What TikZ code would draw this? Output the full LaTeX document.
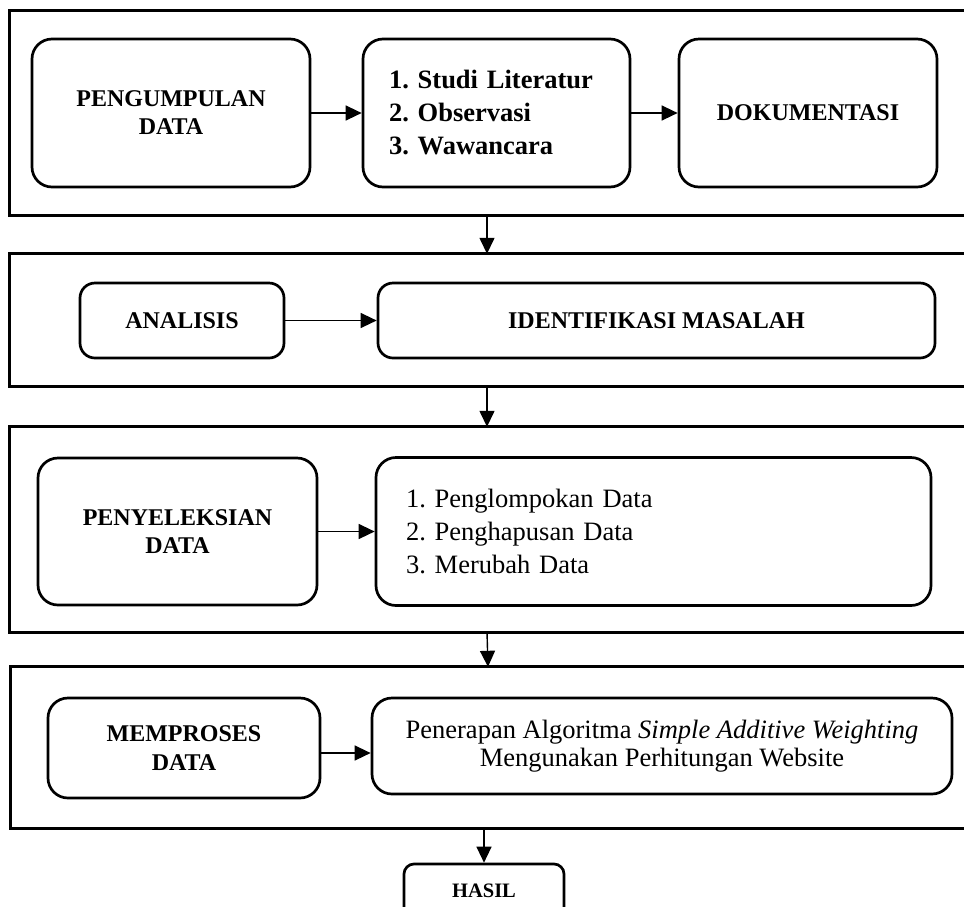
\documentclass[tikz,border=0pt]{standalone}
\usepackage{fontspec}
\setmainfont{Liberation Serif}
\usetikzlibrary{arrows.meta}
\frenchspacing
\begin{document}
\begin{tikzpicture}[x=1pt,y=-1pt,
  panel/.style={rectangle, draw=none, minimum width=954pt, inner sep=0pt},
  rbox/.style={rectangle, rounded corners=20pt, draw, line width=2.7pt, inner sep=0pt},
  capt/.style={font=\fontsize{24}{28}\selectfont\bfseries, align=center},
  listb/.style={font=\fontsize{26.5}{33}\selectfont\bfseries, align=left},
  listr/.style={font=\fontsize{26.5}{33}\selectfont, align=left},
  arr/.style={-{Triangle[length=16pt,width=15pt]}, line width=1.4pt},
  border/.style={line width=3.2pt}
]
\useasboundingbox[fill=white] (0,0) rectangle (964,906);

% panels
\node[panel, minimum height=204pt] (p1) at (487,113) {};
\node[panel, minimum height=132pt] (p2) at (487,320) {};
\node[panel, minimum height=205pt] (p3) at (487,529.5) {};
\node[panel, minimum height=161pt] (p4) at (488,747.5) {};
\foreach \p in {p1,p2,p3,p4}{
  \draw[border] (\p.north east) -- (\p.north west) -- (\p.south west) -- (\p.south east);
}

% panel 1
\node[rbox, capt, minimum width=278pt, minimum height=148pt] (a1) at (171,113) {PENGUMPULAN\\DATA};
\node[rbox, listb, minimum width=267pt, minimum height=148pt, text width=215pt, inner xsep=26pt] (a2) at (496.5,113)
  {1. Studi Literatur\\2. Observasi\\3. Wawancara};
\node[rbox, capt, minimum width=258pt, minimum height=148pt] (a3) at (808,113) {DOKUMENTASI};
\draw[arr] (a1) -- (a2);
\draw[arr] (a2) -- (a3);

% panel 2
\node[rbox, capt, rounded corners=15pt, minimum width=204pt, minimum height=75pt] (b1) at (182,320.5) {ANALISIS};
\node[rbox, capt, rounded corners=15pt, minimum width=557pt, minimum height=75pt] (b2) at (656.5,320.5) {IDENTIFIKASI MASALAH};
\draw[arr] (b1) -- (b2);

% panel 3
\node[rbox, capt, minimum width=279pt, minimum height=147pt] (c1) at (177.5,531.5) {PENYELEKSIAN\\DATA};
\node[rbox, listr, minimum width=555pt, minimum height=148pt, text width=495pt, inner xsep=30pt] (c2) at (653.5,531.5)
  {1. Penglompokan Data\\2. Penghapusan Data\\3. Merubah Data};
\draw[arr] (c1.east) -- (c1.east -| c2.west);

% panel 4
\node[rbox, capt, font=\fontsize{24}{29}\selectfont\bfseries, minimum width=272pt, minimum height=100pt] (d1) at (184,748) {MEMPROSES\\DATA};
\node[rbox, font=\fontsize{26.5}{27.5}\selectfont, align=center, minimum width=580pt, minimum height=96pt] (d2) at (662,746)
  {Penerapan Algoritma \textit{Simple Additive Weighting}\\Mengunakan Perhitungan Website};
\draw[arr] ([yshift=-5pt]d1.east) -- ([yshift=-5pt]d1.east -| d2.west);

% result
\node[rbox, rounded corners=10pt, font=\fontsize{20.5}{24}\selectfont\bfseries, minimum width=160pt, minimum height=54pt] (h) at (484,891) {HASIL};

% vertical connectors
\draw[arr] (p1.south) -- (p2.north);
\draw[arr] (p2.south) -- (p3.north);
\draw[arr] (p3.south) -- (p4.north);
\draw[arr] (p4.south -| h.north) -- (h.north);
\end{tikzpicture}
\end{document}
